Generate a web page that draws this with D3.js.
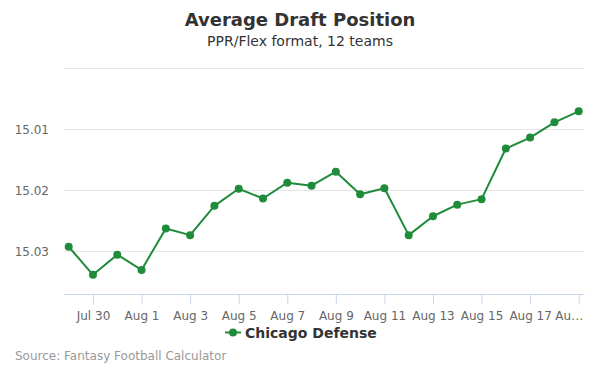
<!DOCTYPE html>
<html lang="en">
<head>
<meta charset="UTF-8">
<title>Average Draft Position</title>
<script src="https://cdn.jsdelivr.net/npm/d3@7"></script>
<style>
    body { margin: 0; background: #fff; }
    #grafico { width: 600px; height: 375px; }
    text { font-family: 'DejaVu Sans', sans-serif; }
    .titulo { font-size: 18px; font-weight: bold; fill: #333; }
    .subtitulo { font-size: 14px; fill: #333; }
    .ejes text { font-size: 12px; fill: #666; }
    .rejilla { stroke: #e6e6e6; stroke-width: 1; }
    .leyenda { font-size: 14px; font-weight: bold; fill: #333; }
    .fuente { font-size: 12px; fill: #999; }
</style>
</head>
<body>
<div id="grafico"></div>
<script>
// fechas (julio 29 a agosto 19)
var dates = ["2019-07-29","2019-07-30","2019-07-31","2019-08-01","2019-08-02","2019-08-03",
             "2019-08-04","2019-08-05","2019-08-06","2019-08-07","2019-08-08","2019-08-09",
             "2019-08-10","2019-08-11","2019-08-12","2019-08-13","2019-08-14","2019-08-15",
             "2019-08-16","2019-08-17","2019-08-18","2019-08-19"];
var adp = [15.0293, 15.0339, 15.0306, 15.0331, 15.0263, 15.0274,
           15.0226, 15.0198, 15.0214, 15.0188, 15.0193, 15.0170,
           15.0207, 15.0197, 15.0274, 15.0243, 15.0224, 15.0215,
           15.0132, 15.0114, 15.0089, 15.0071];
var yTicks = [15.00, 15.01, 15.02, 15.03];
var yLabels = ["", "15.01", "15.02", "15.03"];
var xTickDates = ["2019-07-30","2019-08-01","2019-08-03","2019-08-05","2019-08-07","2019-08-09",
                  "2019-08-11","2019-08-13","2019-08-15","2019-08-17","2019-08-19"];
var xTickLabels = ["Jul 30","Aug 1","Aug 3","Aug 5","Aug 7","Aug 9",
                   "Aug 11","Aug 13","Aug 15","Aug 17","Au\u2026"];
var serie = "Chicago Defense";

var w = 600, h = 375;
var plotLeft = 64, plotRight = 584.5, plotTop = 68, plotBottom = 294;
var verde = "#1f8b3b";

var parseTime = d3.timeParse("%Y-%m-%d");
var data = dates.map(function(d, i){ return { date: parseTime(d), value: adp[i] }; });

var xScale = d3.scaleTime()
    .domain([parseTime(dates[0]), parseTime(dates[dates.length - 1])])
    .range([68.7, 578.7]);

// eje invertido: el valor mas bajo arriba
var yScale = d3.scaleLinear()
    .domain([15.00, 15.03705])
    .range([plotTop, plotBottom]);

var svg = d3.select("#grafico").append("svg")
    .attr("width", w)
    .attr("height", h);

svg.append("text").attr("class", "titulo")
    .attr("x", 300).attr("y", 26).attr("text-anchor", "middle")
    .text("Average Draft Position");
svg.append("text").attr("class", "subtitulo")
    .attr("x", 300).attr("y", 46).attr("text-anchor", "middle")
    .text("PPR/Flex format, 12 teams");

// rejilla
svg.selectAll(".rejilla")
    .data(yTicks)
    .enter().append("line")
    .attr("class", "rejilla")
    .attr("x1", plotLeft).attr("x2", plotRight)
    .attr("y1", function(d){ return Math.round(yScale(d)) + 0.5; })
    .attr("y2", function(d){ return Math.round(yScale(d)) + 0.5; });

// eje y
var yAxis = d3.axisLeft(yScale)
    .tickValues(yTicks)
    .tickSize(0)
    .tickPadding(0)
    .tickFormat(function(d, i){ return yLabels[i]; });
var gy = svg.append("g").attr("class", "ejes")
    .attr("transform", "translate(49,0)")
    .call(yAxis);
gy.select(".domain").remove();
gy.selectAll("text").attr("dy", "0.35em");

// eje x
var xAxis = d3.axisBottom(xScale)
    .tickValues(xTickDates.map(parseTime))
    .tickSize(10)
    .tickPadding(5)
    .tickFormat(function(d, i){ return xTickLabels[i]; });
var gx = svg.append("g").attr("class", "ejes")
    .attr("transform", "translate(0," + (plotBottom + 0.5) + ")")
    .call(xAxis);
gx.select(".domain")
    .attr("d", "M" + plotLeft + ",0H" + plotRight)
    .attr("stroke", "#ccd6eb");
gx.selectAll(".tick line").attr("stroke", "#ccd6eb");
gx.selectAll(".tick text").attr("dy", "0.85em");
// la ultima etiqueta queda recortada dentro del area
gx.selectAll(".tick text").filter(function(d, i){ return i === xTickLabels.length - 1; })
    .attr("text-anchor", "end")
    .attr("x", 4);

// linea
var linea = d3.line()
    .x(function(d){ return xScale(d.date); })
    .y(function(d){ return yScale(d.value); });

svg.append("path")
    .datum(data)
    .attr("d", linea)
    .attr("fill", "none")
    .attr("stroke", verde)
    .attr("stroke-width", 2)
    .attr("stroke-linejoin", "round");

svg.selectAll(".bolas")
    .data(data)
    .enter().append("circle")
    .attr("class", "bolas")
    .attr("cx", function(d){ return xScale(d.date); })
    .attr("cy", function(d){ return yScale(d.value); })
    .attr("r", 4)
    .attr("fill", verde);

// leyenda
var leg = svg.append("g").attr("transform", "translate(225,332.5)");
leg.append("line").attr("x1", 0).attr("x2", 16).attr("y1", 0).attr("y2", 0)
    .attr("stroke", verde).attr("stroke-width", 2);
leg.append("circle").attr("cx", 8).attr("cy", 0).attr("r", 4).attr("fill", verde);
leg.append("text").attr("class", "leyenda")
    .attr("x", 20).attr("y", 5)
    .text(serie);

svg.append("text").attr("class", "fuente")
    .attr("x", 15).attr("y", 360)
    .text("Source: Fantasy Football Calculator");
</script>
</body>
</html>
